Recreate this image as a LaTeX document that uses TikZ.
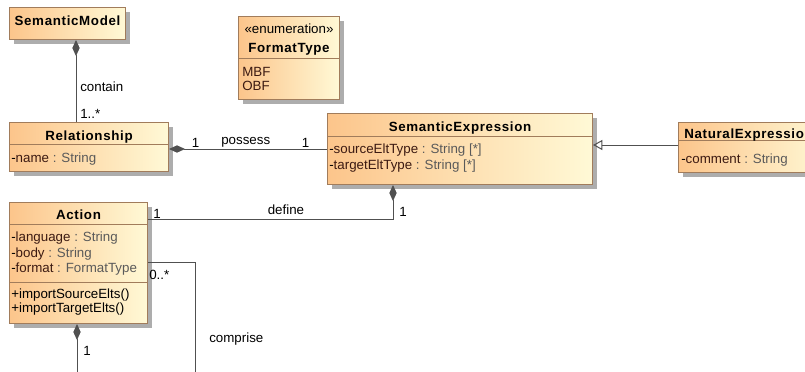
\documentclass[tikz,border=0pt]{standalone}
\usepackage{fontspec}
\setmainfont{Liberation Sans}
\usepackage{tikz}
\usepackage{xcolor}
\usetikzlibrary{positioning, shadows, arrows.meta}
\definecolor{boxl}{HTML}{FCC58B}
\definecolor{boxr}{HTML}{FFF9D6}
\definecolor{boxline}{HTML}{A17C5B}
\definecolor{wirecol}{HTML}{505050}
\definecolor{typegray}{HTML}{5A5A5A}
\definecolor{attrname}{HTML}{3C1A12}
\tikzstyle{classbox} = [rectangle, anchor=north west, inner sep=0pt, draw=boxline, line width=0.75pt, left color=boxl, right color=boxr, drop shadow={shadow xshift=3.5pt, shadow yshift=-3.5pt, fill=black!32, opacity=1}]
\tikzstyle{txt} = [font=\fontsize{10}{11.25}\selectfont, inner sep=0pt, anchor=base west]
\tikzstyle{title} = [txt, font=\fontsize{10}{11.25}\selectfont\bfseries\addfontfeature{LetterSpace=5}, anchor=base]
\tikzstyle{sep} = [draw=boxline, line width=0.75pt]
\tikzstyle{wire} = [draw=wirecol, line width=0.75pt]
\tikzstyle{compo} = [wire, {Diamond[length=12pt, width=5.5pt]}-]
\tikzstyle{inherit} = [wire, -{Triangle[open, length=7pt, width=7.5pt]}]
\newcommand{\attr}[2]{-\textcolor{attrname}{#1} \textcolor{typegray}{: #2}}

\begin{document}
\begin{tikzpicture}[x=0.75pt, y=-0.75pt]
    \useasboundingbox (0,0) rectangle (805,371);

    \node (model) [classbox, minimum width=87pt, minimum height=24pt] at (9,7) {};
    \node (format) [classbox, minimum width=75.75pt, minimum height=62.25pt] at (238,16) {};
    \node (relation) [classbox, minimum width=119.25pt, minimum height=36.75pt] at (9,122) {};
    \node (semexpr) [classbox, minimum width=198.75pt, minimum height=53.25pt] at (327,113) {};
    \node (natexpr) [classbox, minimum width=112.5pt, minimum height=37.5pt] at (678,122) {};
    \node (action) [classbox, minimum width=103.5pt, minimum height=90.75pt] at (9,202) {};

    \draw [sep] ([yshift=-31.5pt]format.north west)--([yshift=-31.5pt]format.north east);
    \draw [sep] ([yshift=-16.5pt]relation.north west)--([yshift=-16.5pt]relation.north east);
    \draw [sep] ([yshift=-17.25pt]semexpr.north west)--([yshift=-17.25pt]semexpr.north east);
    \draw [sep] ([yshift=-13.9pt]natexpr.north west)--([yshift=-13.9pt]natexpr.north east);
    \draw [sep] ([yshift=-16.5pt]action.north west)--([yshift=-16.5pt]action.north east);
    \draw [sep] ([yshift=-60pt]action.north west)--([yshift=-60pt]action.north east);

    \node (modelT) [title] at (model.north |- 0,26) {SemanticModel};

    \node (formatS) [txt, anchor=base] at (format.north |- 0,33) {«enumeration»};
    \node (formatT) [title] at (format.north |- 0,52) {FormatType};
    \node (formatA) [txt, text=attrname] at (242,76) {MBF};
    \node (formatB) [txt, text=attrname] at (242,90) {OBF};

    \node (relationT) [title] at (relation.north |- 0,140) {Relationship};
    \node (relationA) [txt] at (11,162) {\attr{name}{String}};

    \node (semexprT) [title] at (semexpr.north |- 0,131) {SemanticExpression};
    \node (semexprA) [txt] at (329,153) {\attr{sourceEltType}{String [*]}};
    \node (semexprB) [txt] at (329,169) {\attr{targetEltType}{String [*]}};

    \node (natexprT) [title, anchor=base west] at (684,138) {NaturalExpression};
    \node (natexprA) [txt] at (681,163) {\attr{comment}{String}};

    \node (actionT) [title] at (action.north |- 0,219) {Action};
    \node (actionA) [txt] at (11,241.5) {\attr{language}{String}};
    \node (actionB) [txt] at (11,257) {\attr{body}{String}};
    \node (actionC) [txt] at (11,272) {\attr{format}{FormatType}};
    \node (actionD) [txt] at (11,298) {+importSourceElts()};
    \node (actionE) [txt] at (11,312.5) {+importTargetElts()};

    \draw [compo] (model.south -| 76,0)--(relation.north -| 76,0);
    \node (containL) [txt] at (80,91) {contain};
    \node (containM) [txt] at (80,118) {1..*};

    \draw [compo] (relation.east |- 0,149)--(semexpr.west |- 0,149);
    \node (possessA) [txt] at (191.5,147) {1};
    \node (possessL) [txt] at (221,144) {possess};
    \node (possessB) [txt] at (301.5,147) {1};

    \draw [inherit] (natexpr.west |- 0,145)--(semexpr.east |- 0,145);

    \draw [compo] (semexpr.south -| 393,0) |- (action.east |- 0,219);
    \node (defineA) [txt] at (153,218) {1};
    \node (defineL) [txt] at (267.5,214) {define};
    \node (defineB) [txt] at (399,216) {1};

    \coordinate (compEnd) at (195,380);
    \draw [wire] (action.east |- 0,262) -| (compEnd);
    \node (compriseM) [txt] at (149,279) {0..*};
    \node (compriseL) [txt] at (209,342) {comprise};

    \coordinate (partEnd) at (77,380);
    \draw [compo] (action.south -| 77,0)--(partEnd);
    \node (partM) [txt] at (83,355) {1};

\end{tikzpicture}
\end{document}
